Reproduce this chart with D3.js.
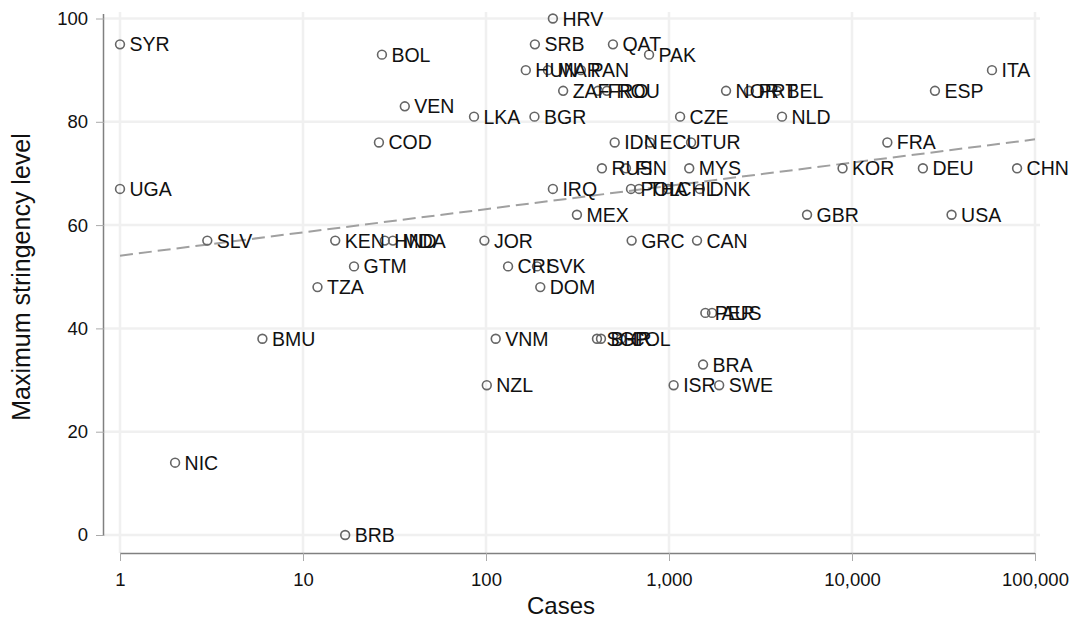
<!DOCTYPE html>
<html lang="en"><head><meta charset="UTF-8">
<title>Stringency vs cases</title>
<script src="https://d3js.org/d3.v7.min.js"></script>
<style type="text/css">
  body { margin: 0; background: #fff; }
  text { font-family: "Liberation Sans", Arial, Helvetica, sans-serif; }
</style>
</head>
<body>
<script type="text/javascript">

// country codes, cases and max stringency
var countries = ["SYR","UGA","SLV","NIC","BMU","BRB","TZA","GTM","KEN","HND","MDA","COD","BOL","VEN",
  "LKA","BGR","HRV","SRB","HUN","MAR","PAN","ZAF","FRO","ROU","QAT","PAK","NOR","PRT","BEL","CZE","IDN",
  "ECU","TUR","NLD","ITA","ESP","FRA","KOR","DEU","CHN","GBR","USA","RUS","FIN","MYS","IRQ","POL",
  "THA","CHL","DNK","MEX","JOR","GRC","CAN","CRI","SVK","DOM","PER","AUS","VNM","SGP","BHR","COL",
  "BRA","ISR","SWE","NZL"];
var cases = [1, 1, 3, 2, 6, 17, 12, 19, 15, 28, 31, 26, 27, 36,
  86, 184, 232, 185, 165, 218, 330, 264, 409, 458, 494, 778, 2050, 2735, 3890, 1150, 505,
  787, 1320, 4145, 58200, 28400, 15600, 8880, 24400, 79800, 5680, 35000, 430, 582, 1290, 232, 620,
  686, 988, 1475, 314, 98, 625, 1423, 132, 190, 198, 1580, 1718, 113, 404, 425, 547,
  1535, 1060, 1880, 101];
var stringency = [95, 67, 57, 14, 38, 0, 48, 52, 57, 57, 57, 76, 93, 83,
  81, 81, 100, 95, 90, 90, 90, 86, 86, 86, 95, 93, 86, 86, 86, 81, 76,
  76, 76, 81, 90, 86, 76, 71, 71, 71, 62, 62, 71, 71, 71, 67, 67,
  67, 67, 67, 62, 57, 57, 57, 52, 52, 48, 43, 43, 38, 38, 38, 38,
  33, 29, 29, 29];

var xTicks = [1, 10, 100, 1000, 10000, 100000];
var yTicks = [0, 20, 40, 60, 80, 100];

var w = 1075;
var h = 630;

var xScale = d3.scaleLog().domain([1, 100000]).range([120, 1035]);
var yScale = d3.scaleLinear().domain([0, 100]).range([535, 18.5]);

var svg = d3.select("body").append("svg")
  .attr("width", w)
  .attr("height", h);

// faint grid
svg.append("g").selectAll("line")
  .data(yTicks).enter().append("line")
  .attr("x1", 104).attr("x2", 1040)
  .attr("y1", function(d) { return yScale(d); })
  .attr("y2", function(d) { return yScale(d); })
  .attr("stroke", "#f0f0f0").attr("stroke-width", 2.5);
svg.append("g").selectAll("line")
  .data(xTicks).enter().append("line")
  .attr("y1", 12).attr("y2", 553)
  .attr("x1", function(d) { return xScale(d); })
  .attr("x2", function(d) { return xScale(d); })
  .attr("stroke", "#f0f0f0").attr("stroke-width", 2.5);

// axes
var xAxis = d3.axisBottom(xScale).tickValues(xTicks).tickFormat(d3.format(",")).tickSize(8).tickPadding(12);
var gx = svg.append("g").attr("transform", "translate(0,553)").call(xAxis);
var yAxis = d3.axisLeft(yScale).tickValues(yTicks).tickSize(8).tickPadding(8);
var gy = svg.append("g").attr("transform", "translate(104,0)").call(yAxis);

[gx, gy].forEach(function(g) {
  g.select(".domain").attr("stroke", "#808080").attr("stroke-width", 1.5);
  g.selectAll(".tick line").attr("stroke", "#aaa");
  g.selectAll(".tick text").attr("font-size", "18.5px").attr("fill", "#111")
   .style("font-family", "'Liberation Sans', Arial, sans-serif");
});
gx.select(".domain").attr("d", "M" + xScale(1) + ",0.5H" + xScale(100000));
gy.select(".domain").attr("d", "M-0.5," + 536 + "V" + 14);

// fitted line: stringency on log10(cases)
var lx = cases.map(function(c) { return Math.log10(c); });
var mx = d3.mean(lx), my = d3.mean(stringency);
var sxy = d3.sum(lx, function(v, i) { return (v - mx) * (stringency[i] - my); });
var sxx = d3.sum(lx, function(v) { return (v - mx) * (v - mx); });
var slope = sxy / sxx, icpt = my - slope * mx;
svg.append("line")
  .attr("x1", xScale(1)).attr("y1", yScale(icpt))
  .attr("x2", xScale(100000)).attr("y2", yScale(icpt + slope * 5))
  .attr("stroke", "#a0a0a0").attr("stroke-width", 2)
  .attr("stroke-dasharray", "13,6");

// points
var pts = countries.map(function(c, i) { return {code: c, x: cases[i], y: stringency[i]}; });

svg.append("g").selectAll("circle")
  .data(pts).enter().append("circle")
  .attr("cx", function(d) { return xScale(d.x); })
  .attr("cy", function(d) { return yScale(d.y); })
  .attr("r", 4.4)
  .attr("fill", "none")
  .attr("stroke", "#666")
  .attr("stroke-width", 1.6);

svg.append("g").selectAll("text")
  .data(pts).enter().append("text")
  .text(function(d) { return d.code; })
  .attr("x", function(d) { return xScale(d.x) + 9.5; })
  .attr("y", function(d) { return yScale(d.y); })
  .attr("dy", "0.36em")
  .attr("font-size", "19.5px")
  .attr("fill", "#111");

// axis titles
svg.append("text")
  .attr("x", 561).attr("y", 614)
  .attr("text-anchor", "middle")
  .attr("font-size", "24px")
  .attr("fill", "#111")
  .text("Cases");
svg.append("text")
  .attr("transform", "translate(30,277) rotate(-90)")
  .attr("text-anchor", "middle")
  .attr("font-size", "25px")
  .attr("fill", "#111")
  .text("Maximum stringency level");

</script>
</body>
</html>
